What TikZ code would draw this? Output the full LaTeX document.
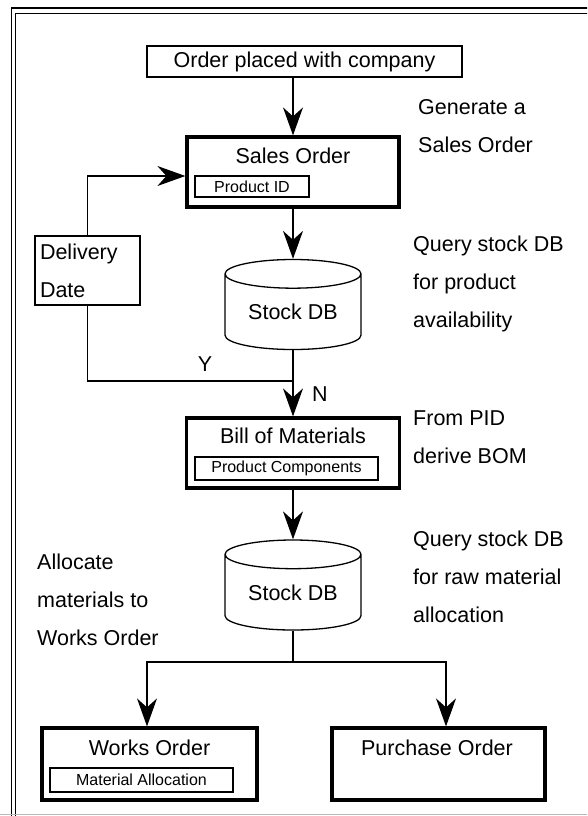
\documentclass[tikz,border=0pt]{standalone}
\usepackage{fontspec}
\setmainfont{Liberation Sans}
\usetikzlibrary{shapes.geometric, arrows.meta, positioning, calc}

\tikzset{
  box/.style={draw, line width=1.3pt, inner sep=0pt},
  bigbox/.style={draw, line width=3.2pt, inner sep=0pt},
  subbox/.style={draw, line width=1.3pt, inner sep=0pt, font=\fontsize{16}{19}\selectfont},
  db/.style={draw, line width=1.3pt, cylinder, shape border rotate=90, aspect=0.32,
    minimum width=136pt, minimum height=90pt, inner sep=0pt},
  note/.style={align=left, inner sep=0pt, anchor=base west},
  flow/.style={line width=1.3pt, -{Stealth[length=28pt, width=20pt, inset=9pt]}},
  wire/.style={line width=1.3pt},
}

\begin{document}
\begin{tikzpicture}[x=1pt, y=-1pt, font=\fontsize{21.5}{38}\selectfont]
\useasboundingbox (0,0) rectangle (587,816);
\clip (0,0) rectangle (587,816);

% frame
\draw[wire] (11.7,830) -- (11.7,8) -- (600,8);
\draw[wire] (15.8,830) -- (15.8,13.4) -- (600,13.4);
\draw[gray!55, line width=1.5pt] (0,814.5) -- (600,814.5);

% boxes
\node[box, minimum width=315pt, minimum height=31pt] (order) at (304.5,61.5) {Order placed with company};

\node[bigbox, minimum width=212pt, minimum height=70pt] (so) at (293,172) {};
\node[anchor=base] (sotitle) at (293,163) {Sales Order};
\node[subbox, minimum width=114pt, minimum height=21pt] (pid) at (252,186.5) {Product ID};

\node[box, minimum height=69pt, text width=95pt, inner xsep=5pt, align=left] (deliv) at (87.5,270.5) {Delivery\\Date};

\node[db] (db1) at (293,312) {Stock DB};

\node[bigbox, minimum width=213pt, minimum height=70pt] (bom) at (293,453) {};
\node[anchor=base] (bomtitle) at (293,443.3) {Bill of Materials};
\node[subbox, minimum width=183pt, minimum height=23pt] (pc) at (286.5,468.5) {Product Components};

\node[db] (db2) at (293,592.5) {Stock DB};

\node[bigbox, minimum width=215pt, minimum height=72pt] (wo) at (149.5,764) {};
\node[anchor=base] (wotitle) at (149.5,755) {Works Order};
\node[subbox, minimum width=183pt, minimum height=24pt] (ma) at (141.5,780) {Material Allocation};

\node[bigbox, minimum width=213pt, minimum height=72pt] (po) at (438.5,764) {};
\node[anchor=base] (potitle) at (437,755) {Purchase Order};

% notes (placed by the baseline of their last line)
\node[note] (n1) at (418,152.5) {Generate a\\Sales Order};
\node[note] (n2) at (413,327) {Query stock DB\\for product\\availability};
\node[note] (n3) at (413,463.5) {From PID\\derive BOM};
\node[note] (n4) at (413,622.7) {Query stock DB\\for raw material\\allocation};
\node[note] (n5) at (37,645.3) {Allocate\\materials to\\Works Order};

% connectors
\coordinate (j1) at (293,381);
\coordinate (j2) at (293,662);
\draw[flow] (order.south -| so.north) -- (so.north);
\draw[flow] (so.south) -- (db1.north);
\draw[flow] (deliv.north) |- ([yshift=-4pt]so.west);
\draw[wire] (deliv.south) |- (j1);
\draw[flow] (db1.south) -- (bom.north);
\node[anchor=base] (ylab) at (205,371.5) {Y};
\node[anchor=base] (nlab) at (320,401.5) {N};
\draw[flow] (bom.south) -- (db2.north);
\draw[wire] (db2.south) -- (j2);
\draw[flow] (j2) -| ([xshift=-2.5pt]wo.north);
\draw[flow] (j2) -| ([xshift=7.5pt]po.north);
\end{tikzpicture}
\end{document}
